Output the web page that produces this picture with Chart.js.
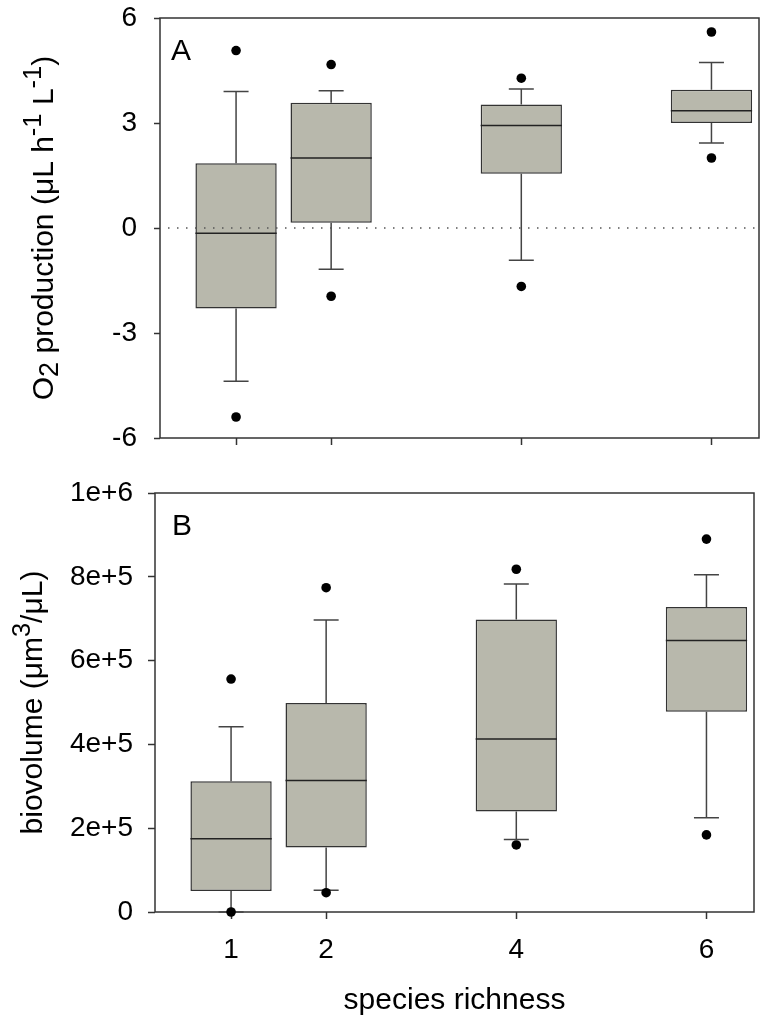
<!DOCTYPE html>
<html>
<head>
<meta charset="utf-8">
<script src="https://cdn.jsdelivr.net/npm/chart.js@4.4.1/dist/chart.umd.min.js"></script>
<style>
  html, body { margin: 0; padding: 0; background: #fff; }
  #wrap { position: relative; width: 766px; height: 1024px; }
  canvas { position: absolute; left: 0; }
  #topChart { top: 0; }
  #bottomChart { top: 470px; }
</style>
</head>
<body>
<div id="wrap">
  <canvas id="topChart" width="766" height="470"></canvas>
  <canvas id="bottomChart" width="766" height="554"></canvas>
</div>
<script>
// species richness (x positions of the boxes)
const richness = [1, 2, 4, 6];
const xTicks = [1, 2, 4, 6];

// panel A: O2 production (uL h-1 L-1)
const o2Q1 = [-2.3, 0.15, 1.55, 3.0];
const o2Med = [-0.15, 2.0, 2.93, 3.35];
const o2Q3 = [1.85, 3.58, 3.53, 3.95];
const o2WhiskLo = [-4.38, -1.18, -0.92, 2.43];
const o2WhiskHi = [3.9, 3.92, 3.97, 4.73];
const o2OutLo = [-5.4, -1.95, -1.67, 2.0];
const o2OutHi = [5.07, 4.67, 4.28, 5.6];
const o2Ticks = [-6, -3, 0, 3, 6];

// panel B: biovolume (um3/uL)
const bvQ1 = [50000, 154000, 240000, 478000];
const bvMed = [175000, 314000, 413000, 648000];
const bvQ3 = [312000, 499000, 698000, 728000];
const bvWhiskLo = [0, 52000, 173000, 225000];
const bvWhiskHi = [442000, 697000, 783000, 805000];
const bvOutLo = [0, 46000, 160000, 184000];
const bvOutHi = [556000, 774000, 818000, 890000];
const bvTicks = [0, 200000, 400000, 600000, 800000, 1000000];

const FONT = "'Liberation Sans', Arial, sans-serif";
const BOX_FILL = '#b8b8ac';
const LINE = '#333333';
Chart.defaults.font.family = FONT;

// per-panel text drawn by the plugin (kept outside chart options)
const panelText = {
  topChart: {
    letter: 'A', letterDx: 11, letterDy: 42, zeroLine: true, titleOffset: 107,
    title: [
      { t: 'O' }, { t: '2', scale: 0.9, shift: 5 }, { t: ' production (\u03bcL h' },
      { t: '-1', scale: 0.85, shift: -12 }, { t: ' L' }, { t: '-1', scale: 0.85, shift: -12 }, { t: ')' }
    ]
  },
  bottomChart: {
    letter: 'B', letterDx: 17, letterDy: 42, zeroLine: false, titleOffset: 113,
    title: [
      { t: 'biovolume (\u03bcm' }, { t: '3', scale: 0.85, shift: -12 }, { t: '/\u03bcL)' }
    ]
  }
};

// whiskers, caps, medians, frame, zero line, panel letter, rich y title
const boxParts = {
  id: 'boxParts',
  beforeDatasetsDraw(chart) {
    const { ctx, chartArea } = chart;
    const xs = chart.scales.x, ys = chart.scales.y;
    const ds = chart.data.datasets[0];
    ctx.save();
    // frame
    ctx.strokeStyle = LINE;
    ctx.lineWidth = 1.5;
    ctx.strokeRect(chartArea.left, chartArea.top, chartArea.right - chartArea.left, chartArea.bottom - chartArea.top);
    // whiskers + caps
    ctx.strokeStyle = '#444';
    ctx.lineWidth = 1.5;
    const cap = 12.5;
    richness.forEach((r, i) => {
      const px = xs.getPixelForValue(r);
      const segs = [[ds.q3[i], ds.hi[i]], [ds.q1[i], ds.lo[i]]];
      segs.forEach(([from, to]) => {
        const y0 = ys.getPixelForValue(from), y1 = ys.getPixelForValue(to);
        ctx.beginPath();
        ctx.moveTo(px, y0); ctx.lineTo(px, y1);
        ctx.moveTo(px - cap, y1); ctx.lineTo(px + cap, y1);
        ctx.stroke();
      });
    });
    ctx.restore();
  },
  afterDatasetsDraw(chart) {
    const { ctx, chartArea } = chart;
    const ys = chart.scales.y;
    const ds = chart.data.datasets[0];
    const bars = chart.getDatasetMeta(0).data;
    const pt = panelText[chart.canvas.id];
    ctx.save();
    // medians
    ctx.strokeStyle = '#222';
    ctx.lineWidth = 1.5;
    bars.forEach((b, i) => {
      const py = ys.getPixelForValue(ds.med[i]);
      ctx.beginPath();
      ctx.moveTo(b.x - b.width / 2, py); ctx.lineTo(b.x + b.width / 2, py);
      ctx.stroke();
    });
    // dotted zero line
    if (pt.zeroLine) {
      const py = ys.getPixelForValue(0);
      ctx.strokeStyle = '#555';
      ctx.lineWidth = 1.5;
      ctx.setLineDash([1.5, 7.5]);
      ctx.beginPath();
      ctx.moveTo(chartArea.left + 8, py); ctx.lineTo(chartArea.right, py);
      ctx.stroke();
      ctx.setLineDash([]);
    }
    ctx.restore();
  },
  afterDraw(chart) {
    const { ctx, chartArea } = chart;
    const pt = panelText[chart.canvas.id];
    ctx.save();
    ctx.fillStyle = '#000';
    // panel letter
    ctx.font = '30px ' + FONT;
    ctx.textAlign = 'left';
    ctx.textBaseline = 'alphabetic';
    ctx.fillText(pt.letter, chartArea.left + pt.letterDx, chartArea.top + pt.letterDy);
    // rotated y title with sub/superscripts
    const size = 30;
    const widths = pt.title.map(p => {
      ctx.font = (size * (p.scale || 1)) + 'px ' + FONT;
      return ctx.measureText(p.t).width;
    });
    const total = widths.reduce((a, b) => a + b, 0);
    ctx.translate(chartArea.left - pt.titleOffset, (chartArea.top + chartArea.bottom) / 2);
    ctx.rotate(-Math.PI / 2);
    let u = -total / 2;
    pt.title.forEach((p, i) => {
      ctx.font = (size * (p.scale || 1)) + 'px ' + FONT;
      ctx.fillText(p.t, u, p.shift || 0);
      u += widths[i];
    });
    ctx.restore();
  }
};

function makeChart(id, cfg) {
  const tickFont = { size: 28, family: FONT };
  return new Chart(document.getElementById(id), {
    type: 'bar',
    data: {
      datasets: [
        {
          type: 'bar',
          data: richness.map((r, i) => ({ x: r, y: [cfg.q1[i], cfg.q3[i]] })),
          q1: cfg.q1, q3: cfg.q3, med: cfg.med, lo: cfg.lo, hi: cfg.hi,
          backgroundColor: BOX_FILL,
          borderColor: LINE,
          borderWidth: 1.5,
          borderSkipped: false,
          categoryPercentage: 1,
          barPercentage: 0.855
        },
        {
          type: 'scatter',
          data: richness.flatMap((r, i) => [{ x: r, y: cfg.outLo[i] }, { x: r, y: cfg.outHi[i] }]),
          pointRadius: 4.8,
          pointBackgroundColor: '#000',
          pointBorderWidth: 0,
          clip: false
        }
      ]
    },
    options: {
      responsive: false,
      animation: false,
      events: [],
      layout: { padding: cfg.padding },
      plugins: {
        legend: { display: false },
        tooltip: { enabled: false }
      },
      scales: {
        x: {
          type: 'linear',
          min: 0.2,
          max: 6.5,
          offset: false,
          afterBuildTicks: s => { s.ticks = xTicks.map(v => ({ value: v })); },
          afterFit: s => { s.height = cfg.xHeight; s.paddingLeft = 0; s.paddingRight = 0; },
          border: { display: false },
          grid: { display: true, offset: false, drawOnChartArea: false, drawTicks: true, tickLength: 7, tickColor: LINE, tickWidth: 1.5 },
          ticks: {
            autoSkip: false,
            maxRotation: 0,
            color: '#000',
            font: tickFont,
            padding: 14,
            callback: v => cfg.xLabels ? String(v) : ''
          },
          title: cfg.xTitle
        },
        y: {
          min: cfg.yTicks[0],
          max: cfg.yTicks[cfg.yTicks.length - 1],
          afterBuildTicks: s => { s.ticks = cfg.yTicks.map(v => ({ value: v })); },
          afterFit: s => { s.width = cfg.yWidth; s.paddingTop = 0; s.paddingBottom = 0; },
          border: { display: false },
          grid: { display: true, drawOnChartArea: false, drawTicks: true, tickLength: cfg.yTickLen, tickColor: LINE, tickWidth: 1.5 },
          ticks: { color: '#000', font: tickFont, padding: cfg.yPad, callback: cfg.yFmt }
        }
      }
    },
    plugins: [boxParts]
  });
}

makeChart('topChart', {
  q1: o2Q1, q3: o2Q3, med: o2Med, lo: o2WhiskLo, hi: o2WhiskHi, outLo: o2OutLo, outHi: o2OutHi,
  yTicks: o2Ticks,
  yFmt: v => String(v),
  yWidth: 160, yTickLen: 6, yPad: 17,
  xHeight: 32, xLabels: false,
  xTitle: { display: false },
  padding: { top: 18, right: 7, left: 0, bottom: 0 }
});

makeChart('bottomChart', {
  q1: bvQ1, q3: bvQ3, med: bvMed, lo: bvWhiskLo, hi: bvWhiskHi, outLo: bvOutLo, outHi: bvOutHi,
  yTicks: bvTicks,
  yFmt: v => v === 0 ? '0' : Number(v).toExponential(),
  yWidth: 155, yTickLen: 7, yPad: 15,
  xHeight: 112, xLabels: true,
  xTitle: { display: true, text: 'species richness', color: '#000', font: { size: 30, family: FONT }, padding: { top: 0, bottom: 5 } },
  padding: { top: 23, right: 12, left: 0, bottom: 0 }
});
</script>
</body>
</html>
